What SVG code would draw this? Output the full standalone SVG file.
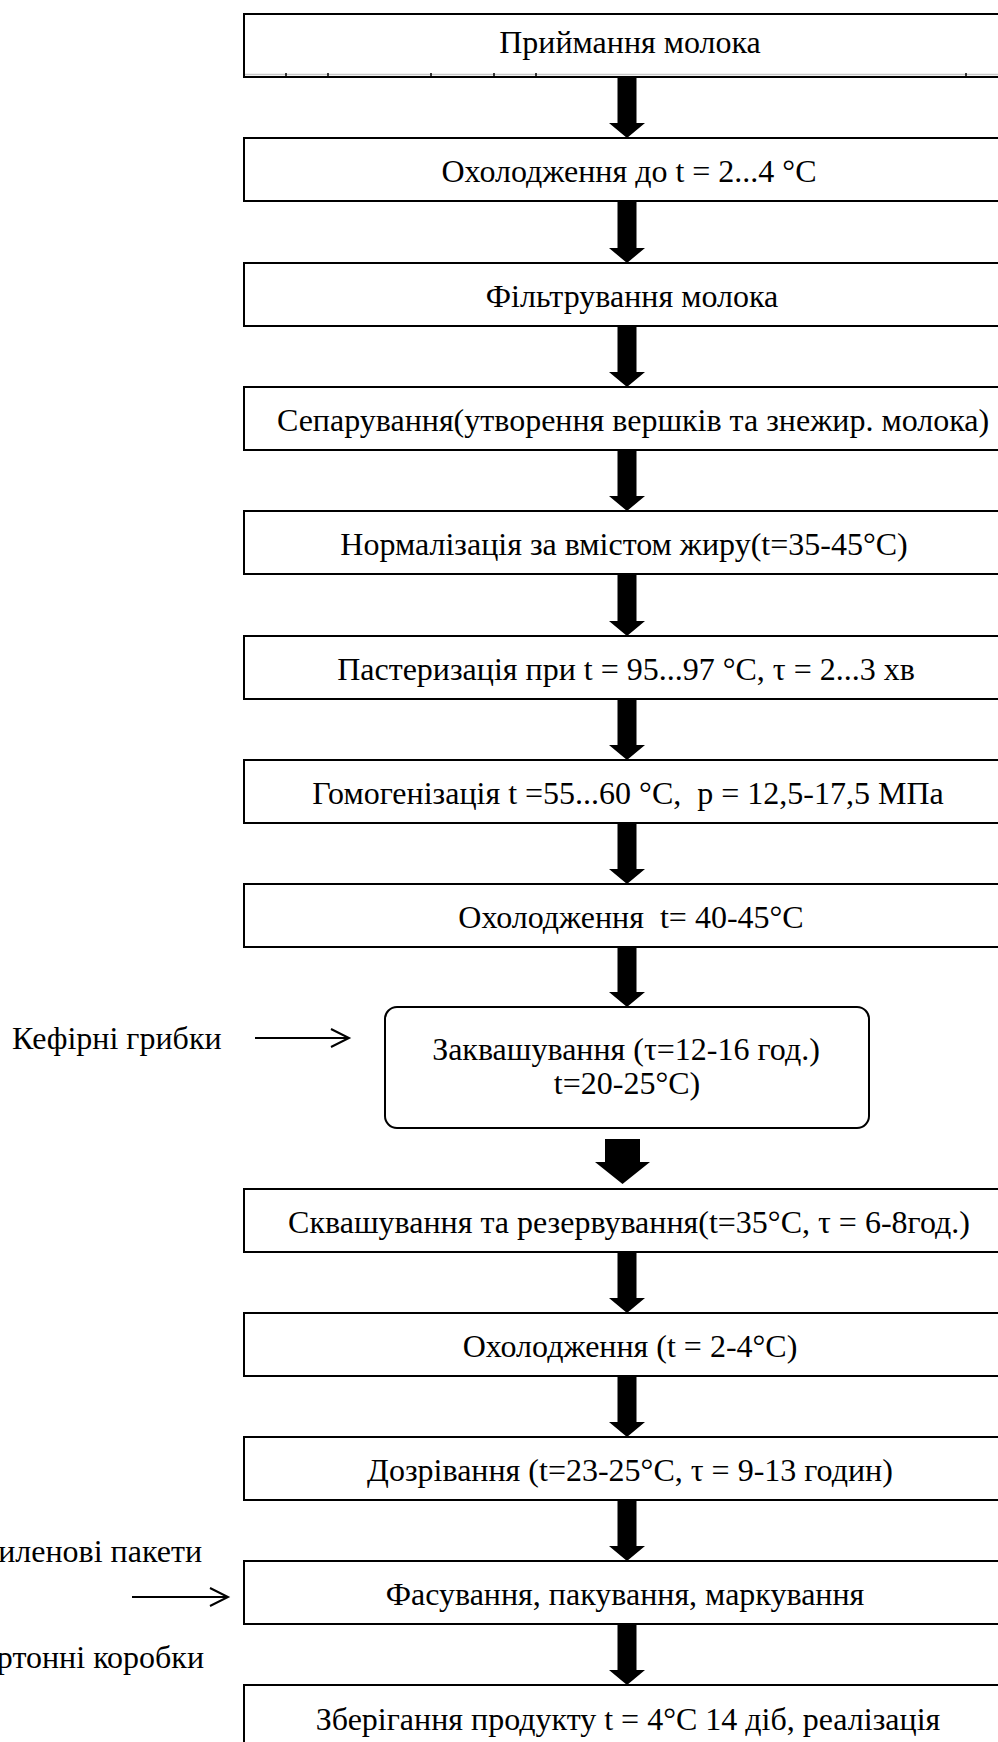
<svg xmlns="http://www.w3.org/2000/svg" width="998" height="1742" viewBox="0 0 998 1742">
<style>
.box{fill:#fff;stroke:#000;stroke-width:2}
.t{font-family:"Liberation Serif","Times New Roman",serif;font-size:32px;fill:#000;text-anchor:middle;white-space:pre}
.l{font-family:"Liberation Serif","Times New Roman",serif;font-size:32px;fill:#000;white-space:pre}
.arr{fill:#000;stroke:none}
.thin{stroke:#000;stroke-width:2;fill:none}
</style>
<rect width="998" height="1742" fill="#fff"/>
<g id="n1"><rect class="box" x="244" y="14" width="800" height="63"/>
<line x1="245" y1="74.5" x2="998" y2="74.5" stroke="#c8c8c8" stroke-width="1.5"/>
<g stroke="#000" stroke-width="1.5"><line x1="286" y1="73" x2="286" y2="77"/><line x1="328" y1="73" x2="328" y2="77"/><line x1="431" y1="73" x2="431" y2="77"/><line x1="494" y1="73" x2="494" y2="77"/><line x1="536" y1="73" x2="536" y2="77"/><line x1="966" y1="73" x2="966" y2="77"/></g>
<text class="t" x="630" y="53">Приймання молока</text></g>
<g id="n2"><rect class="box" x="244" y="138" width="800" height="63"/><text class="t" x="629" y="182">Охолодження до t = 2...4 °C</text></g>
<g id="n3"><rect class="box" x="244" y="263" width="800" height="63"/><text class="t" x="632" y="307">Фільтрування молока</text></g>
<g id="n4"><rect class="box" x="244" y="387" width="800" height="63"/><text class="t" x="633" y="431">Сепарування(утворення вершків та знежир. молока)</text></g>
<g id="n5"><rect class="box" x="244" y="511" width="800" height="63"/><text class="t" x="624" y="555">Нормалізація за вмістом жиру(t=35-45°C)</text></g>
<g id="n6"><rect class="box" x="244" y="636" width="800" height="63"/><text class="t" x="626" y="680">Пастеризація при t = 95...97 °C, τ = 2...3 хв</text></g>
<g id="n7"><rect class="box" x="244" y="760" width="800" height="63"/><text class="t" x="628" y="804">Гомогенізація t =55...60 °C,  p = 12,5-17,5 МПа</text></g>
<g id="n8"><rect class="box" x="244" y="884" width="800" height="63"/><text class="t" x="631" y="928">Охолодження  t= 40-45°C</text></g>
<g id="n9"><rect class="box" x="385" y="1007" width="484" height="121" rx="12"/><text class="t" x="626" y="1060">Заквашування (τ=12-16 год.)</text><text class="t" x="627" y="1094">t=20-25°C)</text></g>
<g id="n10"><rect class="box" x="244" y="1189" width="800" height="63"/><text class="t" x="629" y="1233">Сквашування та резервування(t=35°C, τ = 6-8год.)</text></g>
<g id="n11"><rect class="box" x="244" y="1313" width="800" height="63"/><text class="t" x="630" y="1357">Охолодження (t = 2-4°C)</text></g>
<g id="n12"><rect class="box" x="244" y="1437" width="800" height="63"/><text class="t" x="630" y="1481">Дозрівання (t=23-25°C, τ = 9-13 годин)</text></g>
<g id="n13"><rect class="box" x="244" y="1561" width="800" height="63"/><text class="t" x="625" y="1605">Фасування, пакування, маркування</text></g>
<g id="n14"><rect class="box" x="244" y="1685" width="800" height="80"/><text class="t" x="628" y="1730">Зберігання продукту t = 4°C 14 діб, реалізація</text></g>
<g id="kefir"><text class="l" x="12" y="1049">Кефірні грибки</text></g>
<g id="pack"><text class="l" x="202" y="1562" text-anchor="end">иленові пакети</text><text class="l" x="204" y="1668" text-anchor="end">ртонні коробки</text></g>
<g id="connectors">
<path class="arr" d="M617.5 77H636.5V123H645L627 138L609 123H617.5Z"/>
<path class="arr" d="M617.5 201H636.5V248H645L627 263L609 248H617.5Z"/>
<path class="arr" d="M617.5 326H636.5V372H645L627 387L609 372H617.5Z"/>
<path class="arr" d="M617.5 450H636.5V496H645L627 511L609 496H617.5Z"/>
<path class="arr" d="M617.5 574H636.5V621H645L627 636L609 621H617.5Z"/>
<path class="arr" d="M617.5 699H636.5V745H645L627 760L609 745H617.5Z"/>
<path class="arr" d="M617.5 823H636.5V869H645L627 884L609 869H617.5Z"/>
<path class="arr" d="M617.5 947H636.5V992H645L627 1007L609 992H617.5Z"/>
<path class="arr" d="M605 1139H640V1162H650L622.5 1184L595 1162H605Z"/>
<path class="arr" d="M617.5 1252H636.5V1298H645L627 1313L609 1298H617.5Z"/>
<path class="arr" d="M617.5 1376H636.5V1422H645L627 1437L609 1422H617.5Z"/>
<path class="arr" d="M617.5 1500H636.5V1546H645L627 1561L609 1546H617.5Z"/>
<path class="arr" d="M617.5 1624H636.5V1670H645L627 1685L609 1670H617.5Z"/>
<line class="thin" x1="255" y1="1038" x2="348" y2="1038"/>
<polyline class="thin" points="331,1029 349,1038 331,1047"/>
<line class="thin" x1="132" y1="1597" x2="227" y2="1597"/>
<polyline class="thin" points="210,1588 228,1597 210,1606"/>
</g>
</svg>
